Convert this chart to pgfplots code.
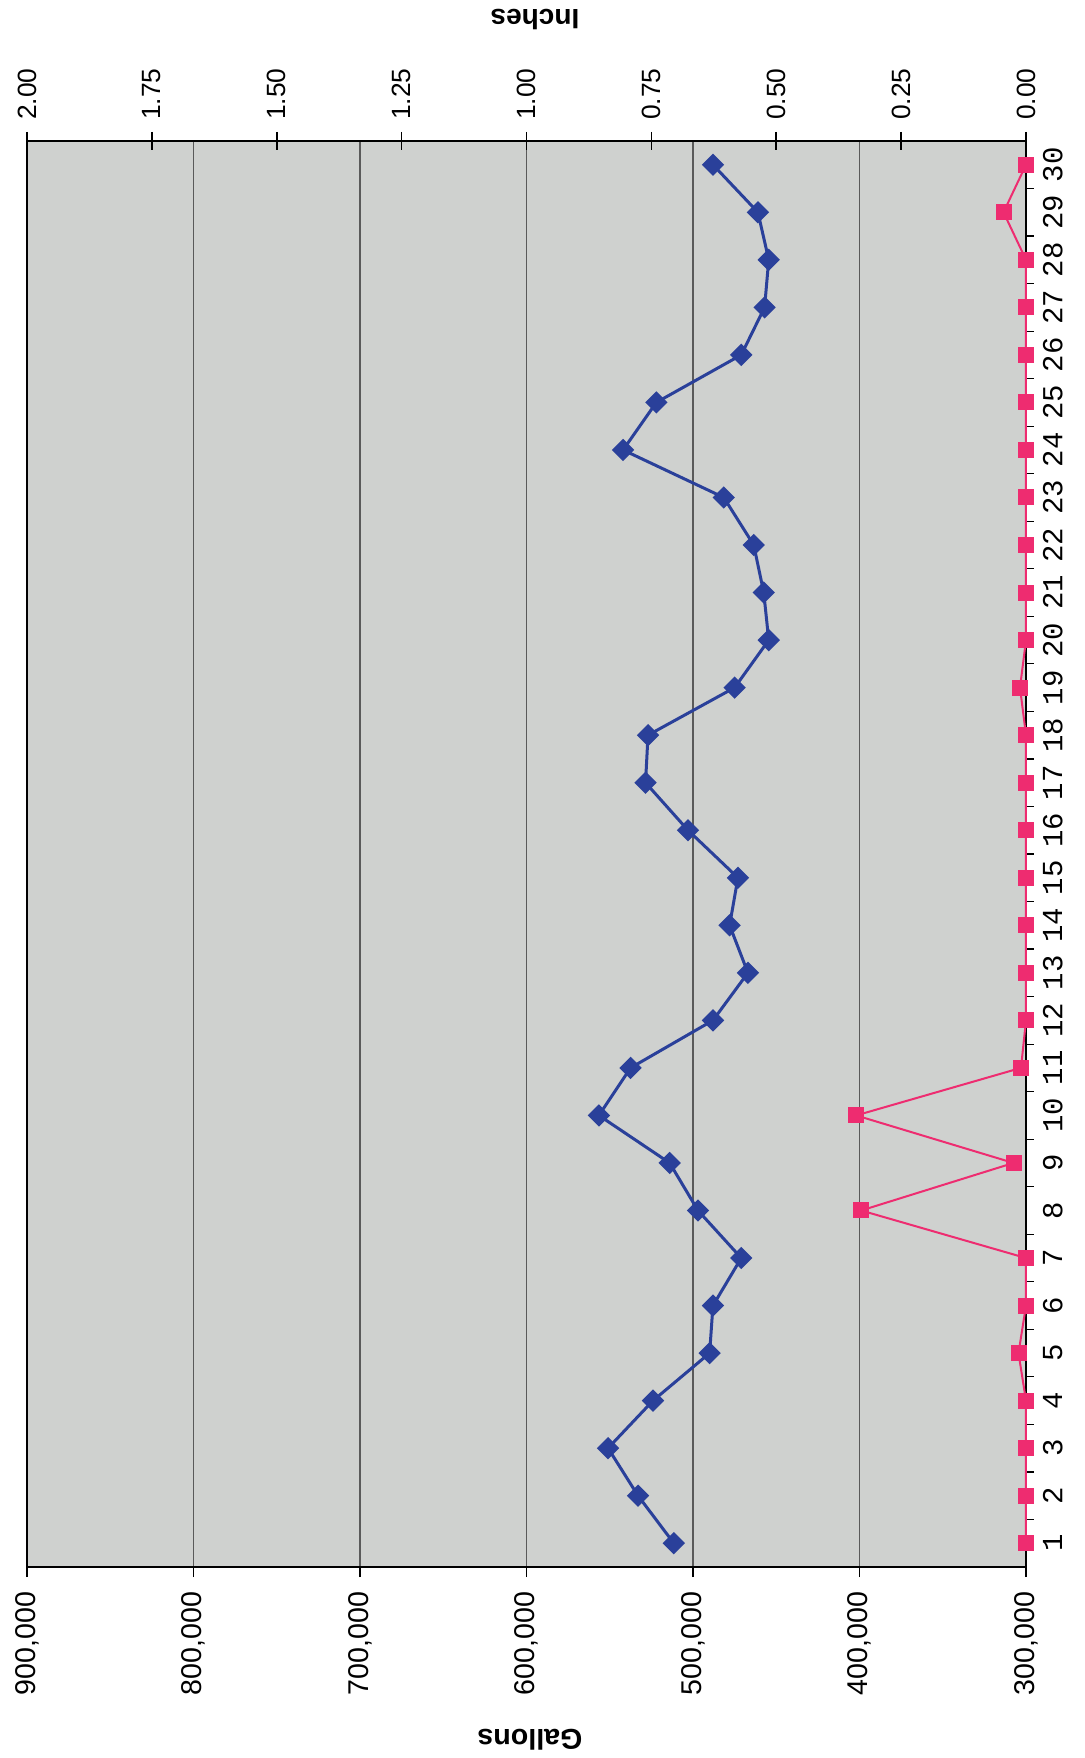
\documentclass[border=0pt]{standalone}
\usepackage{fontspec}
\setmainfont{Liberation Sans}
\newfontfamily\dayfont{Liberation Mono}
\usepackage{pgfplots}
\usepackage{pgfplotstable}
\pgfplotsset{compat=1.18}

\definecolor{plotbg}{HTML}{CFD1CF}
\definecolor{flowblue}{HTML}{2A409A}
\definecolor{rainpink}{HTML}{EE2C70}
\definecolor{gridgray}{HTML}{5A5A5A}

% daily flow (gallons) and rainfall (inches), day 1..30
\pgfplotstableread{
day gallons
1 511500
2 533000
3 551000
4 524000
5 490000
6 488000
7 471000
8 497000
9 514000
10 556500
11 537500
12 488000
13 467000
14 478000
15 473000
16 503000
17 528500
18 527000
19 475000
20 454500
21 457500
22 463500
23 481500
24 542000
25 522000
26 471000
27 457000
28 454500
29 461000
30 488000
}\flowtable

\pgfplotstableread{
day inches
1 0
2 0
3 0
4 0
5 0.015
6 0
7 0
8 0.33
9 0.025
10 0.34
11 0.01
12 0
13 0
14 0
15 0
16 0
17 0
18 0
19 0.012
20 0
21 0
22 0
23 0
24 0
25 0
26 0
27 0
28 0
29 0.045
30 0
}\raintable

\begin{document}
\begin{tikzpicture}
\useasboundingbox (-13.5pt,-95.5pt) rectangle (528.5pt,783.5pt);
\begin{axis}[
  at={(0pt,0pt)}, anchor=south west,
  width=499.5pt, height=713pt, scale only axis,
  xmin=300000, xmax=900000, x dir=reverse,
  ymin=0.5, ymax=30.5,
  axis background/.style={fill=plotbg},
  axis line style={black, line width=1.2pt},
  xtick={300000,400000,500000,600000,700000,800000,900000},
  scaled x ticks=false,
  xtick pos=left, xticklabel pos=left,
  xticklabel shift=4pt,
  x tick label style={rotate=90, anchor=east, font=\fontsize{14.3}{14.3}\selectfont,
    /pgf/number format/.cd, fixed, 1000 sep={,}},
  x tick style={black, line width=0.8pt},
  major tick length=5pt, tick align=outside,
  xmajorgrids, x grid style={gridgray, line width=0.7pt},
  ytick={1,...,30},
  ytick pos=right, yticklabel pos=right,
  minor ytick={1.5,2.5,...,29.5},
  major y tick style={draw=none},
  minor y tick style={black, line width=0.6pt},
  minor tick length=4pt,
  y tick label style={rotate=90, anchor=north, font=\dayfont\fontsize{14.5}{14.5}\selectfont,
    /pgf/number format/.cd, fixed},
  /pgf/number format/assume math mode=true,
]
\addplot[color=flowblue, line width=1.5pt, mark=square*,
  mark size=3.2pt, mark options={rotate=45, solid}]
  table[x=gallons, y=day] {\flowtable};
\end{axis}

\begin{axis}[
  at={(0pt,0pt)}, anchor=south west,
  width=499.5pt, height=713pt, scale only axis,
  xmin=0, xmax=2, x dir=reverse,
  ymin=0.5, ymax=30.5,
  axis x line*=top, axis y line=none,
  axis line style={black, line width=1.2pt},
  xtick={0,0.25,...,2},
  xticklabel shift=2.5pt,
  x tick label style={rotate=90, anchor=west, font=\fontsize{13.2}{13.2}\selectfont,
    /pgf/number format/.cd, fixed, fixed zerofill, precision=2},
  x tick style={black, line width=0.8pt},
  tick align=center, major tick length=9pt,
  /pgf/number format/assume math mode=true,
  clip=false,
]
\addplot[color=rainpink, line width=1pt, mark=square*, mark size=3.5pt]
  table[x=inches, y=day] {\raintable};
\end{axis}

\node[rotate=180, font=\bfseries\fontsize{14.3}{14.3}\selectfont]
  at (251.5pt,-86.5pt) {Gallons};
\node[rotate=180, font=\bfseries\fontsize{14}{14}\selectfont]
  at (254pt,773.5pt) {Inches};
\end{tikzpicture}
\end{document}
